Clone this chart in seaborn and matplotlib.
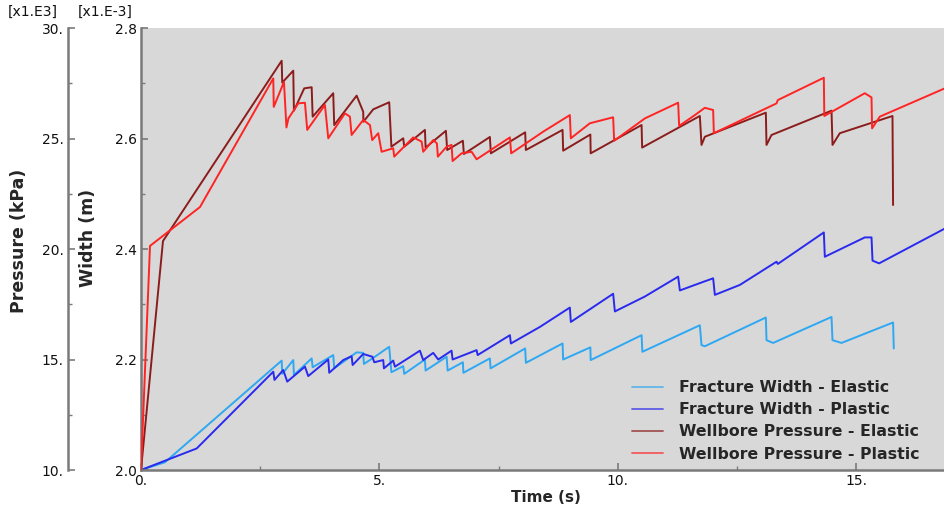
import matplotlib
matplotlib.use("Agg")
from matplotlib import pyplot as plt
from matplotlib.ticker import MultipleLocator, FuncFormatter
from matplotlib.lines import Line2D
import pandas as pd
import seaborn as sns

# Fracture width [x1e-3 m] vs time [s]
t_width_elastic = [0.0, 0.503, 2.950, 2.962, 3.193, 3.207, 3.579, 3.600, 4.031, 4.052,
                   4.522, 4.660, 4.675, 4.870, 5.205, 5.251, 5.499, 5.520, 5.954, 5.968,
                   6.409, 6.430, 6.750, 6.761, 7.316, 7.331, 8.056, 8.071, 8.840, 8.853,
                   9.423, 9.430, 10.497, 10.514, 11.719, 11.754, 11.824, 13.103, 13.117,
                   13.256, 14.480, 14.501, 14.690, 15.771, 15.786]
width_elastic = [2.000, 2.014, 2.198, 2.174, 2.199, 2.172, 2.202, 2.186, 2.208, 2.184,
                 2.213, 2.212, 2.192, 2.203, 2.223, 2.177, 2.188, 2.174, 2.200, 2.180,
                 2.205, 2.180, 2.195, 2.176, 2.202, 2.184, 2.220, 2.194, 2.229, 2.200,
                 2.222, 2.199, 2.244, 2.214, 2.262, 2.226, 2.224, 2.276, 2.235,
                 2.230, 2.277, 2.235, 2.230, 2.267, 2.220]

t_width_plastic = [0.0, 1.168, 2.774, 2.799, 2.983, 3.067, 3.438, 3.507, 3.927, 3.948,
                   4.241, 4.417, 4.438, 4.660, 4.853, 4.891, 5.080, 5.094, 5.289, 5.325,
                   5.849, 5.918, 6.128, 6.233, 6.513, 6.534, 7.038, 7.059, 7.736, 7.757,
                   8.365, 8.993, 9.014, 9.901, 9.937, 10.566, 11.264, 11.300, 11.614,
                   11.998, 12.034, 12.558, 13.327, 13.354, 14.319, 14.340, 15.178,
                   15.319, 15.340, 15.478, 16.855]
width_plastic = [2.000, 2.039, 2.178, 2.163, 2.181, 2.160, 2.187, 2.170, 2.200, 2.176,
                 2.199, 2.206, 2.190, 2.210, 2.205, 2.195, 2.199, 2.184, 2.198, 2.187,
                 2.216, 2.199, 2.212, 2.200, 2.216, 2.200, 2.217, 2.208, 2.244, 2.229,
                 2.259, 2.294, 2.268, 2.319, 2.287, 2.314, 2.350, 2.325, 2.335,
                 2.347, 2.317, 2.335, 2.377, 2.373, 2.430, 2.386, 2.421,
                 2.421, 2.379, 2.374, 2.437]

# Wellbore pressure [x1e3 kPa] vs time [s]
t_press_elastic = [0.0, 0.461, 2.950, 2.962, 3.193, 3.207, 3.423, 3.579, 3.600, 4.031,
                   4.052, 4.522, 4.660, 4.664, 4.870, 5.205, 5.251, 5.499, 5.520, 5.954,
                   5.968, 6.394, 6.421, 6.750, 6.771, 7.316, 7.337, 8.056, 8.071, 8.840,
                   8.853, 9.423, 9.430, 10.497, 10.509, 11.719, 11.754, 11.824, 13.103,
                   13.117, 13.222, 14.480, 14.501, 14.654, 15.759, 15.771]
press_elastic = [10.0, 20.36, 28.52, 27.53, 28.07, 26.26, 27.27, 27.32, 25.99, 27.05,
                 25.61, 26.94, 26.21, 25.76, 26.32, 26.64, 24.63, 25.01, 24.63, 25.39,
                 24.59, 25.35, 24.48, 24.90, 24.30, 25.07, 24.33, 25.28, 24.48, 25.39,
                 24.45, 25.18, 24.33, 25.61, 24.59, 26.02, 24.71, 25.08, 26.17,
                 24.71, 25.16, 26.26, 24.71, 25.24, 26.02, 21.99]

t_press_plastic = [0.0, 0.189, 1.237, 2.774, 2.784, 2.998, 3.050, 3.092, 3.298, 3.438,
                   3.486, 3.857, 3.927, 4.277, 4.381, 4.417, 4.660, 4.801, 4.849, 4.975,
                   5.046, 5.289, 5.310, 5.708, 5.885, 5.918, 6.128, 6.205, 6.226, 6.409,
                   6.513, 6.534, 6.723, 6.933, 7.038, 7.736, 7.763, 8.434, 8.993, 9.014,
                   9.413, 9.901, 9.922, 10.566, 11.264, 11.285, 11.614, 11.824, 11.998,
                   12.013, 13.327, 13.354, 14.319, 14.329, 15.178, 15.319, 15.331,
                   15.493, 16.855]
press_plastic = [10.0, 20.14, 21.90, 27.72, 26.43, 27.56, 25.50, 25.91, 26.59, 26.62,
                 25.39, 26.52, 25.01, 26.14, 25.99, 25.16, 25.84, 25.61, 24.93, 25.24,
                 24.40, 24.56, 24.18, 25.05, 24.86, 24.40, 24.93, 24.78, 24.18, 24.63,
                 24.71, 23.98, 24.33, 24.40, 24.06, 25.05, 24.33, 25.31, 26.06, 25.01,
                 25.69, 25.96, 24.90, 25.91, 26.62, 25.57, 26.06, 26.39, 26.29,
                 25.24, 26.59, 26.74, 27.75, 26.02, 27.05, 26.86, 25.46,
                 25.99, 27.27]

series_names = ["Fracture Width - Elastic", "Fracture Width - Plastic",
                "Wellbore Pressure - Elastic", "Wellbore Pressure - Plastic"]
series_colors = ["#2ea8f2", "#2a2aee", "#8c1c1c", "#ff2424"]

sns.set_style("white")
plt.rcParams['font.family'] = ['DejaVu Sans']

width_df = pd.concat([
    pd.DataFrame({"time": t_width_elastic, "value": width_elastic, "series": series_names[0]}),
    pd.DataFrame({"time": t_width_plastic, "value": width_plastic, "series": series_names[1]}),
], ignore_index=True)
press_df = pd.concat([
    pd.DataFrame({"time": t_press_elastic, "value": press_elastic, "series": series_names[2]}),
    pd.DataFrame({"time": t_press_plastic, "value": press_plastic, "series": series_names[3]}),
], ignore_index=True)
palette = dict(zip(series_names, series_colors))

fig = plt.figure(figsize=(9.45, 5.19), dpi=100)
ax = fig.add_axes([0.1492, 0.0944, 0.8508, 0.8516])
ax.set_facecolor("#d8d8d8")
ax2 = ax.twinx()

sns.lineplot(data=width_df, x="time", y="value", hue="series", palette=palette,
             sort=False, estimator=None, legend=False, lw=1.4, ax=ax)
sns.lineplot(data=press_df, x="time", y="value", hue="series", palette=palette,
             sort=False, estimator=None, legend=False, lw=1.4, ax=ax2)

ax.set_xlim(0, 16.86)
ax.set_ylim(2.0, 2.8)
ax2.set_ylim(10, 30)

spine_col = "#7a7a7a"
for a in (ax, ax2):
    for s in a.spines.values():
        s.set_visible(False)
for side in ('left', 'bottom'):
    ax.spines[side].set_visible(True)
    ax.spines[side].set_color(spine_col)
    ax.spines[side].set_linewidth(1.8)

ax2.spines['left'].set_visible(True)
ax2.spines['left'].set_position(('axes', -0.0908))
ax2.spines['left'].set_color(spine_col)
ax2.spines['left'].set_linewidth(1.8)
ax2.yaxis.set_ticks_position('left')
ax2.yaxis.set_label_position('left')

ax.xaxis.set_major_locator(MultipleLocator(5))
ax.xaxis.set_minor_locator(MultipleLocator(2.5))
ax.yaxis.set_major_locator(MultipleLocator(0.2))
ax.yaxis.set_minor_locator(MultipleLocator(0.1))
ax2.yaxis.set_major_locator(MultipleLocator(5))
ax2.yaxis.set_minor_locator(MultipleLocator(2.5))
ax.xaxis.set_major_formatter(FuncFormatter(lambda v, p: f"{int(round(v))}."))
ax.yaxis.set_major_formatter(FuncFormatter(lambda v, p: f"{v:.1f}"))
ax2.yaxis.set_major_formatter(FuncFormatter(lambda v, p: f"{int(round(v))}."))

for a in (ax, ax2):
    a.tick_params(which='major', direction='in', length=5, width=1.2, color=spine_col,
                  labelsize=10, pad=3, labelcolor='#111111')
    a.tick_params(which='minor', direction='in', length=3, width=1.0, color=spine_col)
ax.tick_params(axis='y', which='both', left=True, right=False)
ax.tick_params(axis='x', which='both', bottom=True, top=False)
ax2.tick_params(axis='y', which='both', left=True, right=False, labelleft=True, labelright=False)

ax.set_xlabel("Time (s)", fontsize=11, fontweight='bold')
ax.xaxis.set_label_coords(0.504, -0.045)
ax.set_ylabel("Width (m)", fontsize=12.5, fontweight='bold')
ax.yaxis.set_label_coords(-0.055, 0.525)
ax2.set_ylabel("Pressure (kPa)", fontsize=12.5, fontweight='bold')
ax2.yaxis.set_label_coords(-0.141, 0.518)

fig.text(8 / 945, 1 - 12 / 519, "[x1.E3]", fontsize=10, va='center', ha='left', color='#111111')
fig.text(78 / 945, 1 - 12 / 519, "[x1.E-3]", fontsize=10, va='center', ha='left', color='#111111')

handles = [Line2D([0], [0], color=c, lw=1.3, alpha=0.7) for c in series_colors]
fig.legend(handles, series_names, loc='upper left', bbox_to_anchor=(632 / 945, 1 - 380 / 519),
           frameon=False, borderpad=0, borderaxespad=0, handlelength=2.0, handletextpad=1.0,
           labelspacing=0.46, prop={'size': 11.3, 'weight': 'bold'})

fig.savefig("out.png", dpi=100)
